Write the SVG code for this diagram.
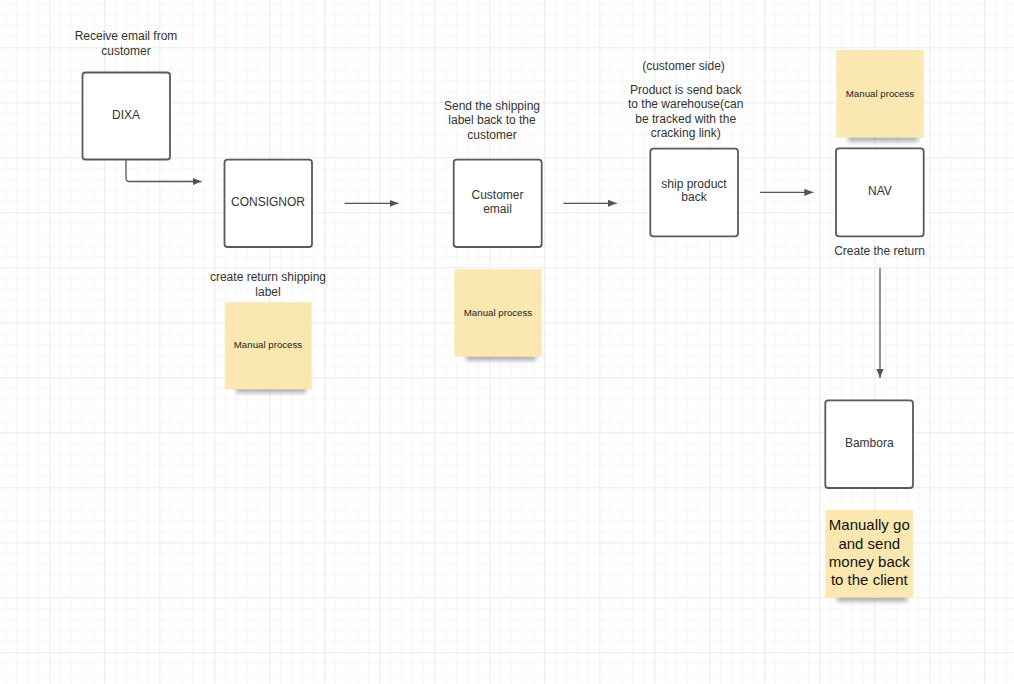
<svg xmlns="http://www.w3.org/2000/svg" width="1014" height="684" viewBox="0 0 1014 684">
  <defs>
    <pattern id="gMinor" patternUnits="userSpaceOnUse" x="5.3" y="3.3" width="11" height="11">
      <path d="M0 0V11M0 0H11" fill="none" stroke="#efefef" stroke-width="1"/>
    </pattern>
    <pattern id="gMajor" patternUnits="userSpaceOnUse" x="49.3" y="47.3" width="55" height="55">
      <path d="M0 0V55M0 0H55" fill="none" stroke="#e2e2e2" stroke-width="1"/>
    </pattern>
    <marker id="arr" viewBox="0 0 10 10" refX="10" refY="5" markerWidth="9" markerHeight="9" markerUnits="userSpaceOnUse" orient="auto">
      <path d="M0 1L10 5L0 9Z" fill="#555"/>
    </marker>
    <filter id="blur" x="-20%" y="-100%" width="140%" height="300%">
      <feGaussianBlur stdDeviation="2.2"/>
    </filter>
  </defs>
  <style>
    .box{fill:#fff;stroke:#5a5a5a;stroke-width:1.8}
    .sticky{fill:#fbe8b0}
    .shd{fill:#000;opacity:0.3;filter:url(#blur)}
    .t{font-family:"Liberation Sans",Arial,sans-serif;font-size:12px;fill:#333;text-anchor:middle}
    .s{font-family:"Liberation Sans",Arial,sans-serif;font-size:9.7px;fill:#222;text-anchor:middle}
    .big{font-family:"Liberation Sans",Arial,sans-serif;font-size:15px;fill:#111;text-anchor:middle}
    .conn{fill:none;stroke:#555;stroke-width:1.3}
  </style>
  <rect width="1014" height="684" fill="#fff"/>
  <rect width="1014" height="684" fill="url(#gMinor)"/>
  <rect width="1014" height="684" fill="url(#gMajor)"/>

  <g id="connectors">
    <path class="conn" d="M126 160V178Q126 181.5 129.5 181.5H201.5" marker-end="url(#arr)"/>
    <path class="conn" d="M344.5 203.3H398.5" marker-end="url(#arr)"/>
    <path class="conn" d="M563.3 203.3H616.7" marker-end="url(#arr)"/>
    <path class="conn" d="M760 192.3H813.3" marker-end="url(#arr)"/>
    <path class="conn" d="M880 268V378" marker-end="url(#arr)"/>
  </g>

  <g id="label-receive">
    <text class="t" x="126" y="40">Receive email from</text>
    <text class="t" x="126" y="55">customer</text>
  </g>
  <g id="dixa">
    <rect class="box" x="82.5" y="72.5" width="87.5" height="87" rx="3"/>
    <text class="t" x="126" y="118.5">DIXA</text>
  </g>

  <g id="consignor">
    <rect class="box" x="224.5" y="159.7" width="87.5" height="87.3" rx="3"/>
    <text class="t" x="268" y="206">CONSIGNOR</text>
  </g>
  <g id="label-create-label">
    <text class="t" x="268" y="281">create return shipping</text>
    <text class="t" x="268" y="296">label</text>
  </g>
  <g id="sticky-consignor">
    <rect class="shd" x="236" y="385" width="70" height="8"/>
    <rect class="sticky" x="224.7" y="302.3" width="87" height="87"/>
    <text class="s" x="268" y="348">Manual process</text>
  </g>

  <g id="label-send">
    <text class="t" x="492" y="109.7">Send the shipping</text>
    <text class="t" x="492" y="124">label back to the</text>
    <text class="t" x="492" y="138.5">customer</text>
  </g>
  <g id="customer-email">
    <rect class="box" x="453.7" y="159.7" width="88" height="87.3" rx="3"/>
    <text class="t" x="497.5" y="198.5">Customer</text>
    <text class="t" x="497.5" y="212.5">email</text>
  </g>
  <g id="sticky-email">
    <rect class="shd" x="466" y="352.7" width="70" height="8"/>
    <rect class="sticky" x="454.3" y="269.3" width="87.4" height="87.4"/>
    <text class="s" x="498" y="315.6">Manual process</text>
  </g>

  <g id="label-product">
    <text class="t" x="683.5" y="70">(customer side)</text>
    <text class="t" x="685.7" y="93.5">Product is send back</text>
    <text class="t" x="685.7" y="108.3">to the warehouse(can</text>
    <text class="t" x="685.7" y="123">be tracked with the</text>
    <text class="t" x="685.7" y="137">cracking link)</text>
  </g>
  <g id="ship-product">
    <rect class="box" x="650.3" y="148.7" width="87.7" height="87.6" rx="3"/>
    <text class="t" x="694" y="187.5">ship product</text>
    <text class="t" x="694" y="201">back</text>
  </g>

  <g id="sticky-nav">
    <rect class="shd" x="848" y="133.7" width="70" height="8"/>
    <rect class="sticky" x="836.3" y="50" width="87.4" height="87.7"/>
    <text class="s" x="880" y="96.5">Manual process</text>
  </g>
  <g id="nav">
    <rect class="box" x="836" y="148.3" width="87.7" height="88" rx="3"/>
    <text class="t" x="880" y="195">NAV</text>
  </g>
  <g id="label-create-return">
    <text class="t" x="879.5" y="255">Create the return</text>
  </g>

  <g id="bambora">
    <rect class="box" x="825.3" y="400.3" width="87.7" height="87.7" rx="3"/>
    <text class="t" x="869.3" y="447">Bambora</text>
  </g>
  <g id="sticky-bambora">
    <rect class="shd" x="837" y="593.7" width="70" height="8"/>
    <rect class="sticky" x="825.3" y="510" width="87.7" height="87.7"/>
    <text class="big" x="869.3" y="530">Manually go</text>
    <text class="big" x="869.3" y="548.5">and send</text>
    <text class="big" x="869.3" y="567">money back</text>
    <text class="big" x="869.3" y="585">to the client</text>
  </g>
</svg>
